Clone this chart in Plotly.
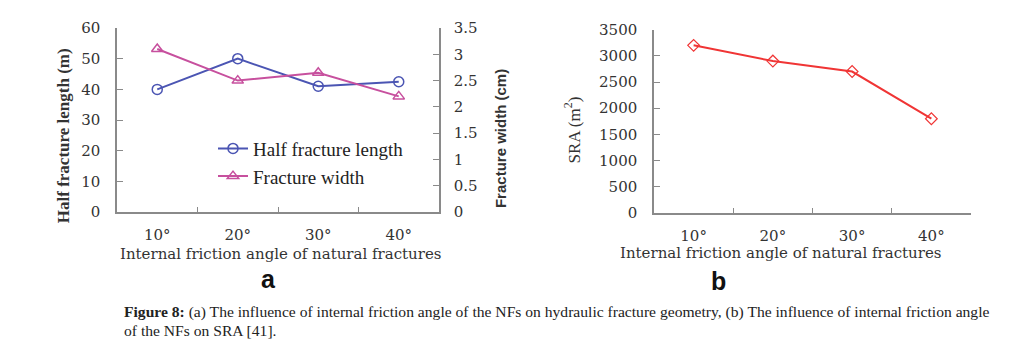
import plotly.graph_objects as go

angles = ["10°", "20°", "30°", "40°"]
half_length = [40, 50, 41, 42.5]
frac_width = [3.1, 2.5, 2.65, 2.2]
sra = [3200, 2900, 2700, 1800]

W, H = 1012, 355
def px(x): return x / W
def py(y): return 1 - y / H

serif = "DejaVu Serif"
tick_font = dict(family=serif, size=15, color="#333333")
axis_col = "#8a8a8a"

fig = go.Figure()
fig.add_trace(go.Scatter(x=angles, y=half_length, mode="lines+markers", name="Half fracture length",
                         line=dict(color="#4b55b3", width=2),
                         marker=dict(symbol="circle-open", size=10, color="#4b55b3", line=dict(width=1.5)),
                         xaxis="x", yaxis="y"))
fig.add_trace(go.Scatter(x=angles, y=frac_width, mode="lines+markers", name="Fracture width",
                         line=dict(color="#c7509e", width=2),
                         marker=dict(symbol="triangle-up-open", size=10, color="#c7509e", line=dict(width=1.5)),
                         xaxis="x", yaxis="y2"))
fig.add_trace(go.Scatter(x=angles, y=sra, mode="lines+markers", name="SRA", showlegend=False,
                         line=dict(color="#f03535", width=2),
                         marker=dict(symbol="diamond-open", size=9, color="#f03535", line=dict(width=1.2)),
                         xaxis="x3", yaxis="y3"))

common_x = dict(type="category", range=[-0.5, 3.5], showline=True, linecolor=axis_col, linewidth=1.5,
                ticks="inside", ticklen=5, tickcolor=axis_col, tickson="boundaries", tickfont=tick_font,
                ticklabelstandoff=8, showgrid=False, zeroline=False, fixedrange=True)
common_y = dict(showline=True, linecolor=axis_col, linewidth=1.5, ticks="inside", ticklen=6,
                tickcolor=axis_col, tickfont=tick_font, showgrid=False, zeroline=False)

fig.update_layout(
    width=W, height=H, margin=dict(l=0, r=0, t=0, b=0),
    paper_bgcolor="white", plot_bgcolor="white",
    xaxis=dict(domain=[px(117), px(439)], anchor="y", **common_x),
    yaxis=dict(domain=[py(214), py(20)], anchor="x", range=[0, 60], dtick=10, ticklabelstandoff=12, **common_y),
    yaxis2=dict(overlaying="y", side="right", anchor="x", range=[0, 3.5], dtick=0.5, ticklabelstandoff=10, **common_y),
    xaxis3=dict(domain=[px(654), px(971)], anchor="y3", **common_x),
    yaxis3=dict(domain=[py(215), py(21.7)], anchor="x3", range=[0, 3500], dtick=500, ticklabelstandoff=12, **common_y),
    legend=dict(x=px(213), y=py(127), xanchor="left", yanchor="top", bgcolor="rgba(0,0,0,0)",
                font=dict(family="Liberation Serif", size=19, color="#222222"), itemwidth=30, tracegroupgap=0),
    showlegend=True,
)

ann = [
    dict(x=px(281), y=py(258), text="Internal friction angle of natural fractures",
         font=dict(family=serif, size=15, color="#333333")),
    dict(x=px(781), y=py(257), text="Internal friction angle of natural fractures",
         font=dict(family=serif, size=15, color="#333333")),
    dict(x=px(63), y=py(134), text="<b>Half fracture length (m)</b>", textangle=-90,
         font=dict(family="Liberation Serif", size=17, color="#333333")),
    dict(x=px(500), y=py(137), text="<b>Fracture width (cm)</b>", textangle=-90,
         font=dict(family="Liberation Sans", size=15, color="#333333")),
    dict(x=px(572), y=py(128), text="SRA (m<sup>2</sup>)", textangle=-90,
         font=dict(family="Liberation Serif", size=17, color="#333333")),
    dict(x=px(268), y=py(284), text="<b>a</b>", font=dict(family="Liberation Sans", size=25, color="#111111")),
    dict(x=px(718), y=py(287), text="<b>b</b>", font=dict(family="Liberation Sans", size=25, color="#111111")),
    dict(x=px(122), y=py(319), xanchor="left",
         text="<b>Figure 8:</b> (a) The influence of internal friction angle of the NFs on hydraulic fracture geometry, (b) The influence of internal friction angle",
         font=dict(family="Liberation Serif", size=15.6, color="#222222")),
    dict(x=px(122), y=py(339), xanchor="left", text="of the NFs on SRA [41].",
         font=dict(family="Liberation Serif", size=15.6, color="#222222")),
]
for a in ann:
    a.setdefault("xanchor", "center")
    a.update(xref="paper", yref="paper", showarrow=False, yanchor="middle")
    fig.add_annotation(**a)

fig.write_html("out.html", config={"displayModeBar": False},
               post_script="document.body.style.margin='0';document.body.style.overflow='hidden';")
